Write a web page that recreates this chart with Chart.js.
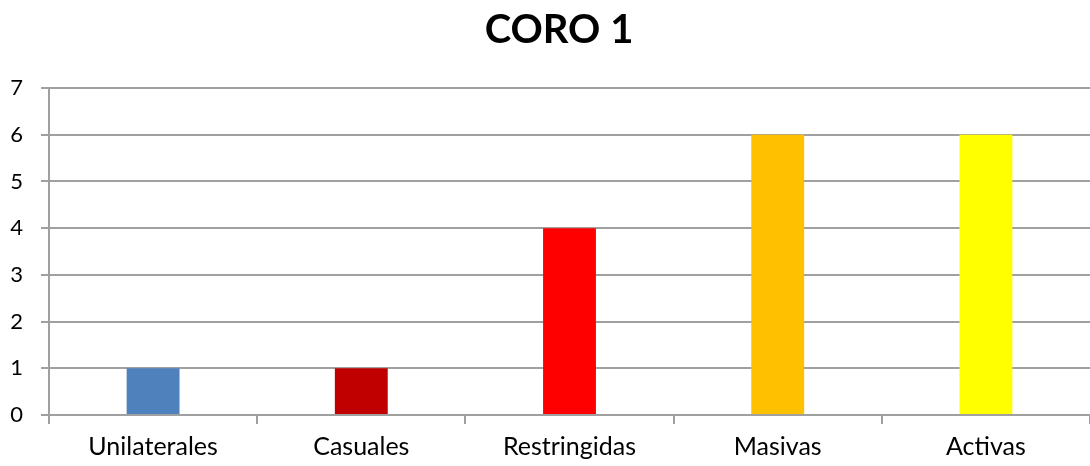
<!DOCTYPE html>
<html><head><meta charset="utf-8">
<script src="https://cdn.jsdelivr.net/npm/chart.js@4/dist/chart.umd.min.js"></script>
<style>html,body{margin:0;padding:0;background:#fff}#w{width:1090px;height:466px}</style>
</head><body><div id="w"><canvas id="c"></canvas></div>
<script>
const categories = ["Unilaterales", "Casuales", "Restringidas", "Masivas", "Activas"];
const values = [1, 1, 4, 6, 6];
const barColors = ["#4F81BD", "#C00000", "#FF0000", "#FFC000", "#FFFF00"];
const titleText = "CORO 1";
const yTicks = [0, 1, 2, 3, 4, 5, 6, 7];

const grid = "#A0A0A0";
const titlePlugin = {
  id: "titleText",
  afterDraw(chart) {
    const ctx = chart.ctx;
    ctx.save();
    ctx.font = "bold 40px Lato";
    ctx.fillStyle = "#000";
    ctx.textAlign = "center";
    ctx.textBaseline = "alphabetic";
    ctx.fillText(titleText, 559, 43);
    ctx.restore();
  }
};
new Chart(document.getElementById("c"), {
  type: "bar",
  data: { labels: categories, datasets: [{ data: values, backgroundColor: barColors, barPercentage: 0.254, categoryPercentage: 1 }] },
  options: {
    responsive: true, maintainAspectRatio: false, animation: false,
    layout: { padding: { left: 0, right: 0, top: 88, bottom: 0 } },
    plugins: { legend: { display: false }, tooltip: { enabled: false }, title: { display: false } },
    scales: {
      x: {
        afterFit: (s) => { s.height = 51; },
        grid: { display: true, drawOnChartArea: false, drawTicks: true, tickLength: 9, color: grid, lineWidth: 2, offset: true },
        border: { display: false },
        ticks: { color: "#000", font: { family: "Lato", size: 25 }, padding: 8, maxRotation: 0, autoSkip: false }
      },
      y: {
        min: 0, max: 7,
        afterBuildTicks: (s) => { s.ticks = yTicks.map(v => ({ value: v })); },
        afterFit: (s) => { s.width = 49; },
        grid: { color: grid, lineWidth: 2, drawTicks: true, tickLength: 8 },
        border: { display: true, color: grid, width: 2 },
        ticks: { color: "#000", font: { family: "Lato", size: 22 }, padding: 18 }
      }
    }
  },
  plugins: [titlePlugin]
});
</script></body></html>
